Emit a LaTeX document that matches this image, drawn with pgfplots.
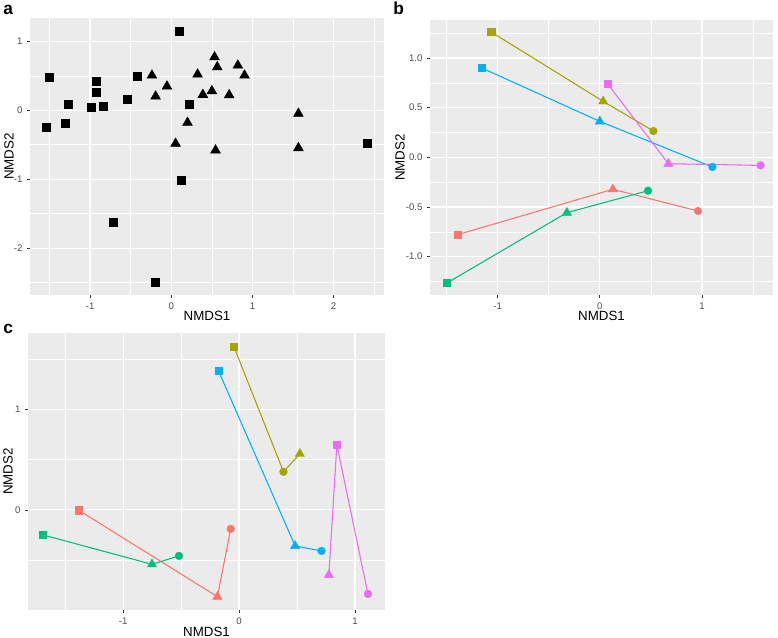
\documentclass[border=0pt]{standalone}
\usepackage{fontspec}
\setmainfont{Liberation Sans}
\usepackage{pgfplots}
\pgfplotsset{compat=1.18}
\definecolor{ggbg}{HTML}{EBEBEB}
\definecolor{ggtick}{HTML}{4D4D4D}
\definecolor{ggtk}{HTML}{333333}
\definecolor{cR}{HTML}{F8766D}
\definecolor{cO}{HTML}{A3A500}
\definecolor{cG}{HTML}{00BF7D}
\definecolor{cB}{HTML}{00B0F6}
\definecolor{cP}{HTML}{E76BF3}
\pgfplotsset{
  gg/.style={
    scale only axis,
    anchor=north west,
    axis background/.style={fill=ggbg},
    axis line style={draw=none},
    grid=both,
    major grid style={white, line width=0.9pt},
    minor grid style={white, line width=0.45pt},
    tick align=outside,
    xtick pos=bottom, ytick pos=left,
    major tick length=2.2pt,
    minor tick length=0pt,
    tick style={ggtk, line width=0.5pt},
    every tick label/.append style={font=\fontsize{7.2}{8}\selectfont, text=ggtick},
    label style={font=\fontsize{10}{12}\selectfont, text=black},
    xlabel={NMDS1}, ylabel={NMDS2},
  },
  grp/.style={scatter, scatter src=explicit symbolic, line width=0.8pt,
    mark options={solid, line width=0.3pt},
    scatter/classes={
      s={mark=square*, mark size=2.7pt},
      t={mark=triangle*, mark size=4pt},
      c={mark=*, mark size=2.9pt}}},
}
\begin{document}
\begin{tikzpicture}
\path[use as bounding box] (0,0) rectangle (583.5pt,-478.5pt);
% panel a
\begin{axis}[gg, at={(22.5pt,-13.5pt)}, width=265.5pt, height=207.75pt,
  xmin=-1.74, xmax=2.62, ymin=-2.68, ymax=1.34,
  xtick={-1,0,1,2}, xticklabels={-1,0,1,2},
  ytick={-2,-1,0,1}, yticklabels={-2,-1,0,1},
  minor xtick={-1.5,-0.5,0.5,1.5,2.5}, minor ytick={-2.5,-1.5,-0.5,0.5},
  xlabel style={at={(axis description cs:0.5,-0.076)}, anchor=center},
  ylabel style={at={(axis description cs:-0.059,0.5)}, anchor=center},
]
\addplot[only marks, mark=square*, mark size=3pt, black] coordinates {
(0.094,1.145) (-1.504,0.473) (-0.926,0.415) (-0.918,0.261) (-0.414,0.493)
(-1.27,0.082) (-0.98,0.048) (-0.836,0.058) (-0.541,0.155) (-1.545,-0.246)
(-1.311,-0.193) (0.221,0.092) (0.119,-1.01) (-0.713,-1.623) (-0.197,-2.498)
(2.41,-0.483)};
\addplot[only marks, mark=triangle*, mark size=4.2pt, black] coordinates {
(-0.238,0.507) (-0.193,0.203) (-0.053,0.348) (0.324,0.522) (0.533,0.773)
(0.566,0.628) (0.82,0.652) (0.902,0.507) (0.389,0.227) (0.5,0.28)
(0.713,0.222) (0.2,-0.179) (0.053,-0.483) (0.545,-0.58) (1.566,-0.048)
(1.566,-0.546)};
\end{axis}
% panel b
\begin{axis}[gg, at={(322.5pt,-15pt)}, width=257.25pt, height=206.25pt,
  xmin=-1.661, xmax=1.694, ymin=-1.386, ymax=1.383,
  xtick={-1,0,1}, xticklabels={-1,0,1},
  ytick={-1,-0.5,0,0.5,1}, yticklabels={-1.0,-0.5,0.0,0.5,1.0},
  minor xtick={-1.5,-0.5,0.5,1.5}, minor ytick={-1.25,-0.75,-0.25,0.25,0.75,1.25},
  xlabel style={at={(axis description cs:0.5,-0.076)}, anchor=center},
  ylabel style={at={(axis description cs:-0.0875,0.5)}, anchor=center},
]
\addplot[grp, cR] coordinates {(-1.394,-0.779) [s] (0.127,-0.322) [t] (0.961,-0.540) [c]};
\addplot[grp, cO] coordinates {(-1.062,1.262) [s] (0.033,0.564) [t] (0.524,0.265) [c]};
\addplot[grp, cG] coordinates {(-1.495,-1.265) [s] (-0.322,-0.557) [t] (0.472,-0.336) [c]};
\addplot[grp, cB] coordinates {(-1.153,0.899) [s] (0.0,0.362) [t] (1.101,-0.097) [c]};
\addplot[grp, cP] coordinates {(0.075,0.742) [s] (0.671,-0.064) [t] (1.573,-0.081) [c]};
\end{axis}
% panel c
\begin{axis}[gg, at={(21pt,-249.75pt)}, width=267.75pt, height=207.75pt,
  xmin=-1.82, xmax=1.258, ymin=-0.997, ymax=1.761,
  xtick={-1,0,1}, xticklabels={-1,0,1},
  ytick={0,1}, yticklabels={0,1},
  minor xtick={-1.5,-0.5,0.5}, minor ytick={-0.5,0.5,1.5},
  xlabel style={at={(axis description cs:0.5,-0.079)}, anchor=center},
  ylabel style={at={(axis description cs:-0.056,0.5)}, anchor=center},
]
\addplot[grp, cR] coordinates {(-1.384,-0.003) [s] (-0.187,-0.864) [t] (-0.072,-0.189) [c]};
\addplot[grp, cO] coordinates {(-0.046,1.628) [s] (0.383,0.379) [c] (0.524,0.558) [t]};
\addplot[grp, cG] coordinates {(-1.692,-0.249) [s] (-0.751,-0.542) [t] (-0.518,-0.458) [c]};
\addplot[grp, cB] coordinates {(-0.178,1.385) [s] (0.483,-0.359) [t] (0.711,-0.409) [c]};
\addplot[grp, cP] coordinates {(0.774,-0.648) [t] (0.843,0.648) [s] (1.111,-0.837) [c]};
\end{axis}
% panel letters
\node[anchor=base west, inner sep=0pt, font=\fontsize{13}{15}\selectfont\bfseries] at (2.25pt,-11.25pt) {a};
\node[anchor=base west, inner sep=0pt, font=\fontsize{13}{15}\selectfont\bfseries] at (294.75pt,-11.25pt) {b};
\node[anchor=base west, inner sep=0pt, font=\fontsize{13}{15}\selectfont\bfseries] at (2.25pt,-249.75pt) {c};
\end{tikzpicture}
\end{document}
